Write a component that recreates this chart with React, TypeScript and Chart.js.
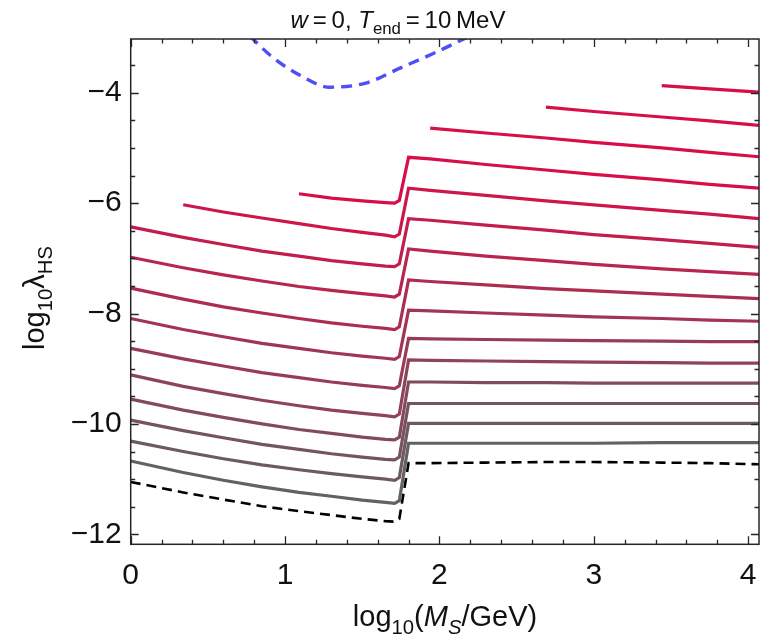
import React, { useEffect, useRef } from "react";
import { Chart, registerables } from "chart.js";

Chart.register(...registerables);

const FONT = '"Liberation Sans", Arial, Helvetica, sans-serif';
const N = null;

// shared abscissae: log10(M_S / GeV)
const massGrid = [0, 0.34, 0.6, 0.85, 1.09, 1.3, 1.5, 1.65, 1.71, 1.74, 1.8, 1.94, 2.3, 2.69, 3.0, 3.44, 3.75, 4.07];

// short branches at large coupling (upper right)
const curve1 = [N, N, N, N, N, N, N, N, N, N, N, N, N, N, N, -3.87, -3.93, -3.99];
const curve2 = [N, N, N, N, N, N, N, N, N, N, N, N, N, -4.26, -4.34, -4.44, -4.51, -4.59];
const curve3 = [N, N, N, N, N, N, N, N, N, N, N, -4.64, -4.73, -4.82, -4.9, -5.0, -5.08, -5.16];

// curves with the threshold step near log10(M_S) ~ 1.75
const curve4 = [N, N, N, N, -5.83, -5.91, -5.96, -5.99, -6.0, -5.95, -5.17, -5.2, -5.3, -5.4, -5.48, -5.58, -5.66, -5.73];
const curve5 = [N, -6.03, -6.16, -6.27, -6.37, -6.46, -6.53, -6.58, -6.61, -6.56, -5.73, -5.77, -5.86, -5.96, -6.03, -6.13, -6.2, -6.28];
const curve6 = [-6.43, -6.62, -6.75, -6.87, -6.96, -7.04, -7.1, -7.14, -7.15, -7.1, -6.28, -6.31, -6.4, -6.49, -6.57, -6.66, -6.73, -6.8];
const curve7 = [-6.98, -7.17, -7.3, -7.41, -7.51, -7.58, -7.64, -7.68, -7.7, -7.65, -6.83, -6.87, -6.96, -7.04, -7.11, -7.19, -7.24, -7.29];
const curve8 = [-7.54, -7.74, -7.88, -7.99, -8.09, -8.17, -8.23, -8.27, -8.29, -8.24, -7.39, -7.42, -7.48, -7.55, -7.59, -7.65, -7.69, -7.73];
const curve9 = [-8.09, -8.29, -8.42, -8.54, -8.63, -8.71, -8.77, -8.81, -8.83, -8.78, -7.94, -7.95, -7.99, -8.03, -8.06, -8.09, -8.12, -8.14];
const curve10 = [-8.63, -8.82, -8.95, -9.07, -9.16, -9.24, -9.3, -9.34, -9.36, -9.31, -8.45, -8.46, -8.47, -8.48, -8.49, -8.5, -8.51, -8.51];
const curve11 = [-9.11, -9.32, -9.45, -9.57, -9.67, -9.75, -9.81, -9.85, -9.87, -9.82, -8.84, -8.85, -8.86, -8.87, -8.88, -8.89, -8.9, -8.9];
const curve12 = [-9.55, -9.75, -9.88, -10.0, -10.1, -10.17, -10.24, -10.28, -10.29, -10.24, -9.24, -9.24, -9.25, -9.25, -9.26, -9.26, -9.26, -9.26];
const curve13 = [-9.93, -10.12, -10.25, -10.37, -10.46, -10.54, -10.6, -10.64, -10.65, -10.6, -9.63, -9.63, -9.63, -9.63, -9.63, -9.63, -9.63, -9.63];
const curve14 = [-10.31, -10.5, -10.63, -10.74, -10.83, -10.9, -10.96, -11.0, -11.02, -10.97, -9.99, -9.99, -9.99, -9.99, -9.99, -9.99, -9.99, -9.99];
const curve15 = [-10.67, -10.88, -11.02, -11.14, -11.24, -11.31, -11.38, -11.42, -11.44, -11.39, -10.35, -10.35, -10.35, -10.35, -10.35, -10.34, -10.34, -10.34];

// lower boundary (black dashed)
const lowerBound = [-11.05, -11.24, -11.37, -11.49, -11.58, -11.65, -11.72, -11.76, -11.77, -11.72, -10.71, -10.71, -10.7, -10.69, -10.69, -10.7, -10.71, -10.73];

// upper boundary (blue dashed)
const upperBoundX = [0.77, 0.92, 1.1, 1.29, 1.53, 1.74, 1.96, 2.2];
const upperBoundY = [-2.97, -3.36, -3.69, -3.9, -3.82, -3.56, -3.29, -2.97];

// colour parameter for each solid curve (0 = crimson, 1 = grey)
const curves = [curve1, curve2, curve3, curve4, curve5, curve6, curve7, curve8, curve9, curve10, curve11, curve12, curve13, curve14, curve15];
const shade = [0, 0, 0, 0, 1 / 11, 2 / 11, 3 / 11, 4 / 11, 5 / 11, 6 / 11, 7 / 11, 8 / 11, 9 / 11, 10 / 11, 1];

const xMajor = [0, 1, 2, 3, 4];
const yMajor = [-12, -10, -8, -6, -4];
const X_MIN = 0;
const X_MAX = 4.07;
const Y_MIN = -12.18;
const Y_MAX = -3.027;

const CRIMSON = [216, 14, 72];
const GREY = [98, 98, 98];

function blend(t: number): string {
  const c = CRIMSON.map((v, i) => Math.round(v + (GREY[i] - v) * t));
  return `rgb(${c[0]},${c[1]},${c[2]})`;
}

function toPoints(ys: (number | null)[]) {
  const pts: { x: number; y: number }[] = [];
  ys.forEach((y, i) => {
    if (y !== null) pts.push({ x: massGrid[i], y });
  });
  return pts;
}

type Seg = { t: string; it?: boolean; sub?: boolean };

function segFont(s: Seg, size: number) {
  const sz = s.sub ? size * 0.7 : size;
  return `${s.it ? "italic " : ""}${sz}px ${FONT}`;
}

function drawRich(ctx: CanvasRenderingContext2D, segs: Seg[], cx: number, baseline: number, size: number) {
  let total = 0;
  for (const s of segs) {
    ctx.font = segFont(s, size);
    total += ctx.measureText(s.t).width;
  }
  let x = cx - total / 2;
  ctx.textBaseline = "alphabetic";
  ctx.textAlign = "left";
  for (const s of segs) {
    ctx.font = segFont(s, size);
    ctx.fillText(s.t, x, baseline + (s.sub ? size * 0.27 : 0));
    x += ctx.measureText(s.t).width;
  }
}

const titleSegs: Seg[] = [
  { t: "w", it: true },
  { t: "\u2009=\u20090, " },
  { t: "T", it: true },
  { t: "end", sub: true },
  { t: "\u2009=\u200910\u2009MeV" },
];
const xTitleSegs: Seg[] = [
  { t: "log" },
  { t: "10", sub: true },
  { t: "(" },
  { t: "M", it: true },
  { t: "S", it: true, sub: true },
  { t: "/GeV)" },
];
const yTitleSegs: Seg[] = [{ t: "log" }, { t: "10", sub: true }, { t: "\u03bb" }, { t: "HS", sub: true }];

const frameAndText = {
  id: "frameAndText",
  afterDraw(chart: any) {
    const { ctx, chartArea: a, scales } = chart;
    const xs = scales.x;
    const ys = scales.y;
    ctx.save();
    ctx.strokeStyle = "#262626";
    ctx.lineWidth = 1.5;
    ctx.strokeRect(a.left, a.top, a.right - a.left, a.bottom - a.top);
    ctx.lineWidth = 1.3;
    ctx.beginPath();
    for (let i = 0; i <= 20; i++) {
      const v = i * 0.2;
      const major = i % 5 === 0;
      const len = major ? 8 : 4.5;
      const p = Math.round(xs.getPixelForValue(v)) + 0.5;
      ctx.moveTo(p, a.bottom);
      ctx.lineTo(p, a.bottom - len);
      ctx.moveTo(p, a.top);
      ctx.lineTo(p, a.top + len);
    }
    for (let i = 0; i <= 17; i++) {
      const v = -12 + i * 0.5;
      const major = i % 4 === 0;
      const len = major ? 8 : 4.5;
      const p = Math.round(ys.getPixelForValue(v)) + 0.5;
      ctx.moveTo(a.left, p);
      ctx.lineTo(a.left + len, p);
      ctx.moveTo(a.right, p);
      ctx.lineTo(a.right - len, p);
    }
    ctx.stroke();

    ctx.fillStyle = "#111";
    drawRich(ctx, titleSegs, 398, 28, 24);
    drawRich(ctx, xTitleSegs, 445, 626, 29);
    ctx.save();
    ctx.translate(44, 298);
    ctx.rotate(-Math.PI / 2);
    drawRich(ctx, yTitleSegs, 0, 0, 29);
    ctx.restore();
    ctx.restore();
  },
};

function tickText(v: number) {
  return v < 0 ? "\u2212" + Math.abs(v) : String(v);
}

export default function App() {
  const ref = useRef<HTMLCanvasElement | null>(null);

  useEffect(() => {
    if (!ref.current) return;
    const datasets: any[] = curves.map((ys, i) => ({
      data: toPoints(ys),
      borderColor: blend(shade[i]),
      borderWidth: 3.2,
      pointRadius: 0,
      tension: 0,
      fill: false,
      clip: 0,
    }));
    datasets.push({
      data: toPoints(lowerBound),
      borderColor: "#000",
      borderWidth: 2.6,
      borderDash: [10, 6],
      pointRadius: 0,
      tension: 0,
      fill: false,
      clip: 0,
    });
    datasets.push({
      data: upperBoundX.map((x, i) => ({ x, y: upperBoundY[i] })),
      borderColor: "#4f4ff5",
      borderWidth: 3.4,
      borderDash: [11, 7],
      pointRadius: 0,
      cubicInterpolationMode: "monotone",
      fill: false,
      clip: 0,
    });

    const chart = new Chart(ref.current, {
      type: "line",
      data: { datasets },
      options: {
        animation: false,
        responsive: false,
        events: [],
        layout: { padding: { top: 39, right: 2, left: 0, bottom: 0 } },
        plugins: { legend: { display: false }, tooltip: { enabled: false }, title: { display: false } },
        scales: {
          x: {
            type: "linear",
            min: X_MIN,
            max: X_MAX,
            grid: { display: false, drawTicks: false },
            border: { display: false },
            ticks: {
              color: "#111",
              font: { family: FONT, size: 30 },
              padding: 13,
              maxRotation: 0,
              callback: (v: any) => tickText(Number(v)),
            },
            afterBuildTicks: (s: any) => {
              s.ticks = xMajor.map((value) => ({ value }));
            },
            afterFit: (s: any) => {
              s.height = 94.7;
              s.paddingLeft = 0;
              s.paddingRight = 0;
            },
          },
          y: {
            type: "linear",
            min: Y_MIN,
            max: Y_MAX,
            grid: { display: false, drawTicks: false },
            border: { display: false },
            ticks: {
              color: "#111",
              font: { family: FONT, size: 30 },
              padding: 9,
              callback: (v: any) => tickText(Number(v)),
            },
            afterBuildTicks: (s: any) => {
              s.ticks = yMajor.map((value) => ({ value }));
            },
            afterFit: (s: any) => {
              s.width = 130.7;
              s.paddingTop = 0;
              s.paddingBottom = 0;
            },
          },
        },
      },
      plugins: [frameAndText],
    });
    return () => chart.destroy();
  }, []);

  return (
    <div style={{ position: "fixed", left: 0, top: 0, width: 761, height: 639, background: "#fff" }}>
      <canvas ref={ref} width={761} height={639} style={{ display: "block" }} />
    </div>
  );
}
